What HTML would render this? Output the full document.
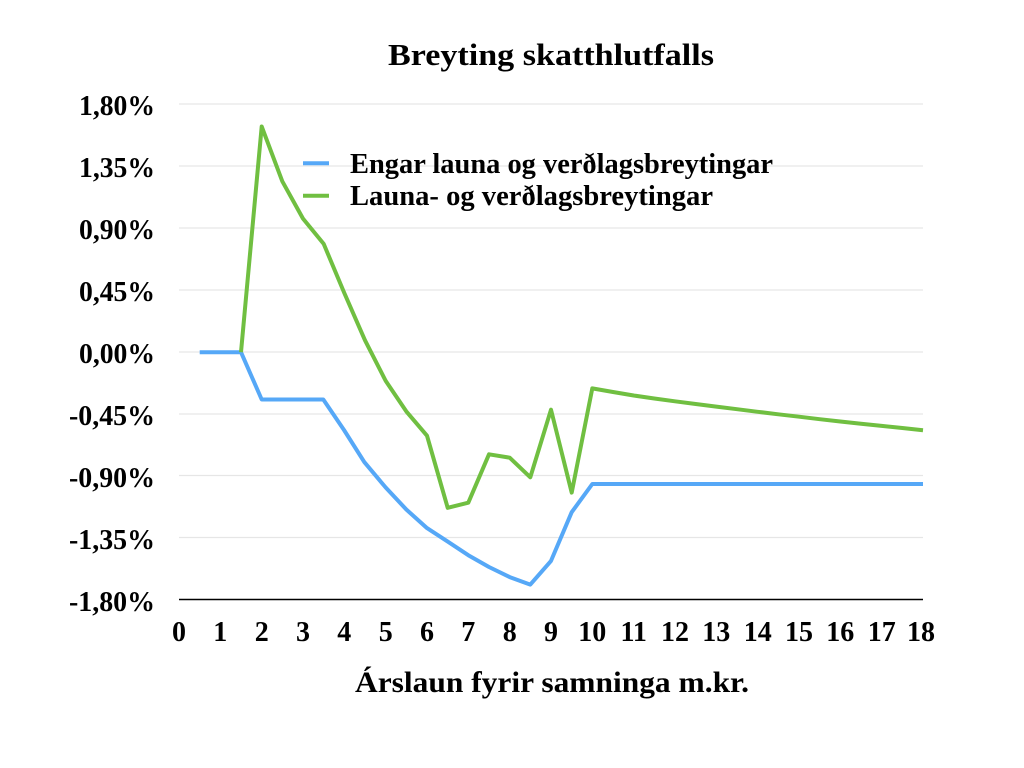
<!DOCTYPE html>
<html><head><meta charset="utf-8"><style>
html,body{margin:0;padding:0;background:#fff;}
svg{display:block;}
text{font-family:"Liberation Serif",serif;font-weight:bold;fill:#000;}
</style></head><body>
<svg width="1024" height="768" viewBox="0 0 1024 768">
<text x="551" y="65" font-size="31" text-anchor="middle" textLength="326" lengthAdjust="spacingAndGlyphs">Breyting skatthlutfalls</text>
<g stroke="#e6e6e6" stroke-width="1.3">
<line x1="179" y1="104" x2="923" y2="104"/>
<line x1="179" y1="166" x2="923" y2="166"/>
<line x1="179" y1="228" x2="923" y2="228"/>
<line x1="179" y1="290" x2="923" y2="290"/>
<line x1="179" y1="352" x2="923" y2="352"/>
<line x1="179" y1="414" x2="923" y2="414"/>
<line x1="179" y1="475.5" x2="923" y2="475.5"/>
<line x1="179" y1="537.5" x2="923" y2="537.5"/>
</g>
<line x1="179" y1="599.5" x2="923" y2="599.5" stroke="#000" stroke-width="1.5"/>
<g font-size="28.5" text-anchor="end">
<text x="155" y="115" textLength="76" lengthAdjust="spacingAndGlyphs">1,80%</text>
<text x="155" y="177" textLength="76" lengthAdjust="spacingAndGlyphs">1,35%</text>
<text x="155" y="239" textLength="76" lengthAdjust="spacingAndGlyphs">0,90%</text>
<text x="155" y="301" textLength="76" lengthAdjust="spacingAndGlyphs">0,45%</text>
<text x="155" y="363" textLength="76" lengthAdjust="spacingAndGlyphs">0,00%</text>
<text x="155" y="425" textLength="86" lengthAdjust="spacingAndGlyphs">-0,45%</text>
<text x="155" y="487" textLength="86" lengthAdjust="spacingAndGlyphs">-0,90%</text>
<text x="155" y="549" textLength="86" lengthAdjust="spacingAndGlyphs">-1,35%</text>
<text x="155" y="611" textLength="86" lengthAdjust="spacingAndGlyphs">-1,80%</text>
</g>
<g font-size="28" text-anchor="middle">
<text x="179" y="641">0</text><text x="220.3" y="641">1</text><text x="261.7" y="641">2</text><text x="303" y="641">3</text><text x="344.3" y="641">4</text><text x="385.7" y="641">5</text><text x="427" y="641">6</text><text x="468.3" y="641">7</text><text x="509.7" y="641">8</text><text x="551" y="641">9</text><text x="592.3" y="641">10</text><text x="633.7" y="641">11</text><text x="675" y="641">12</text><text x="716.3" y="641">13</text><text x="757.7" y="641">14</text><text x="799" y="641">15</text><text x="840.3" y="641">16</text><text x="881.7" y="641">17</text><text x="921" y="641">18</text>
</g>
<text x="552" y="692" font-size="30" text-anchor="middle" textLength="394" lengthAdjust="spacingAndGlyphs">Árslaun fyrir samninga m.kr.</text>
<polyline fill="none" stroke="#56a8f7" stroke-width="4" stroke-linejoin="round" points="199.7,352.2 241,352.2 261.7,399.5 323.3,399.5 344,430 364.3,462.1 385.7,487.5 406.3,509.5 427,528.1 447.7,541.6 468.3,555.2 489,567 509.7,577.1 530.3,584.6 551,560.9 571.7,512.2 592.3,484 923,484"/>
<polyline fill="none" stroke="#70bf41" stroke-width="4" stroke-linejoin="round" points="241,352.2 261.7,126.5 282.3,181.3 303,218.6 323.7,243.9 344.3,293 365,340.3 385.7,380.9 406.3,411.4 427,435.7 447.7,507.8 468.3,502.7 489,454.3 509.7,457.7 530.3,477.3 551,409.7 571.7,492.6 592.3,388.4 613,392 633.7,395.5 654.3,398.5 675,401.3 695.7,404 716.3,406.6 737,409.2 757.7,411.8 778.3,414.3 799,416.7 819.7,419.2 840.3,421.5 861,423.7 881.7,425.9 902.3,428 923,430.2"/>
<line x1="303" y1="163.3" x2="329" y2="163.3" stroke="#56a8f7" stroke-width="4"/>
<line x1="303" y1="195.7" x2="329" y2="195.7" stroke="#70bf41" stroke-width="4"/>
<text x="350" y="173" font-size="28" textLength="423" lengthAdjust="spacingAndGlyphs">Engar launa og verðlagsbreytingar</text>
<text x="350" y="205" font-size="28" textLength="363" lengthAdjust="spacingAndGlyphs">Launa- og verðlagsbreytingar</text>
</svg>
</body></html>
